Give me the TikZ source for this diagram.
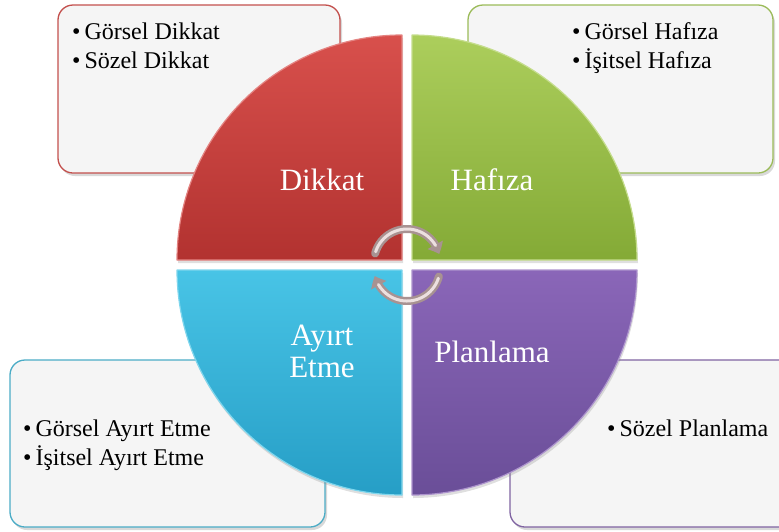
\documentclass[tikz,border=0pt]{standalone}
\usepackage{fontspec}
\setmainfont{Liberation Serif}
\newfontfamily\timesfont{Liberation Serif}
\usepackage{tikz}
\usetikzlibrary{arrows.meta, bending, shadows}
\definecolor{boxgray}{RGB}{245,245,245}
\definecolor{dikkatline}{RGB}{195,80,77}
\definecolor{dikkattop}{RGB}{216,80,76}
\definecolor{dikkatbot}{RGB}{178,50,48}
\definecolor{hafizaline}{RGB}{155,187,89}
\definecolor{hafizatop}{RGB}{172,206,92}
\definecolor{hafizabot}{RGB}{132,170,54}
\definecolor{ayirtline}{RGB}{75,172,198}
\definecolor{ayirttop}{RGB}{72,196,230}
\definecolor{ayirtbot}{RGB}{38,158,198}
\definecolor{planline}{RGB}{128,100,162}
\definecolor{plantop}{RGB}{138,102,184}
\definecolor{planbot}{RGB}{106,78,152}
\definecolor{cycledark}{RGB}{168,146,146}
\definecolor{cyclelight}{RGB}{236,224,224}

\begin{document}
\begin{tikzpicture}[x=1pt, y=1pt, line cap=round, line join=round,
	infobox/.style={rounded corners=15pt, line width=1.3pt, fill=boxgray,
		drop shadow={shadow xshift=2pt, shadow yshift=-3pt, opacity=.3}},
	item/.style={anchor=base west, inner sep=0pt, font=\timesfont\fontsize{24}{29}\selectfont},
	sector/.style={line width=1.2pt,
		drop shadow={shadow xshift=1pt, shadow yshift=-3pt, opacity=.25}},
	sectorlabel/.style={white, inner sep=0pt, align=center, font=\timesfont\fontsize{31}{32}\selectfont},
	cyclearrow/.style={line width=8pt, cycledark, -{Triangle[bend, width=17pt, length=10pt]}},
	cycleshine/.style={line width=3pt, cyclelight}]
	\useasboundingbox (0,0) rectangle (779,-531);
	\clip (0,0) rectangle (779,-531);

	% text boxes behind the circle
	\draw[infobox, draw=dikkatline] (58,-5) rectangle (340,-173);
	\draw[infobox, draw=hafizaline] (468,-5) rectangle (773,-173);
	\draw[infobox, draw=ayirtline] (10,-360) rectangle (325,-527);
	\draw[infobox, draw=planline] (510,-360) rectangle (800,-527);

	\node[item] (gdikkat) at (72,-39) {•\,Görsel Dikkat};
	\node[item] (sdikkat) at (72,-68) {•\,Sözel Dikkat};
	\node[item] (ghafiza) at (572,-39) {•\,Görsel Hafıza};
	\node[item] (ihafiza) at (572,-68) {•\,İşitsel Hafıza};
	\node[item] (gayirt) at (23,-436) {•\,Görsel Ayırt Etme};
	\node[item] (iayirt) at (23,-465) {•\,İşitsel Ayırt Etme};
	\node[item] (splan) at (607,-436) {•\,Sözel Planlama};

	% four quarters of the circle
	\draw[sector, draw=dikkattop!70!white, top color=dikkattop, bottom color=dikkatbot]
		(402,-260) -- (177,-260) arc[start angle=180, end angle=90, radius=225] -- cycle;
	\draw[sector, draw=hafizatop!70!white, top color=hafizatop, bottom color=hafizabot]
		(412,-260) -- (412,-35) arc[start angle=90, end angle=0, radius=225] -- cycle;
	\draw[sector, draw=ayirttop!70!white, top color=ayirttop, bottom color=ayirtbot]
		(402,-270) -- (177,-270) arc[start angle=180, end angle=270, radius=225] -- cycle;
	\draw[sector, draw=plantop!70!white, top color=plantop, bottom color=planbot]
		(412,-270) -- (637,-270) arc[start angle=0, end angle=-90, radius=225] -- cycle;

	\node[sectorlabel, anchor=base] (dikkat) at (322,-190) {Dikkat};
	\node[sectorlabel, anchor=base] (hafiza) at (492,-190) {Hafıza};
	\node[sectorlabel] (ayirt) at (322,-351) {Ayırt\\Etme};
	\node[sectorlabel, anchor=base] (planlama) at (492,-362) {Planlama};

	% cycle arrows in the middle
	\coordinate (upc) at (407,-262);
	\coordinate (lowc) at (407,-268);
	\draw[cyclearrow] ([shift={(165:33)}]upc) arc[start angle=165, end angle=14, radius=33];
	\draw[cycleshine] ([shift={(162:33)}]upc) arc[start angle=162, end angle=30, radius=33];
	\draw[cyclearrow] ([shift={(-15:33)}]lowc) arc[start angle=-15, end angle=-166, radius=33];
	\draw[cycleshine] ([shift={(-18:33)}]lowc) arc[start angle=-18, end angle=-150, radius=33];
\end{tikzpicture}
\end{document}
